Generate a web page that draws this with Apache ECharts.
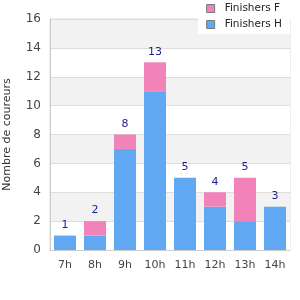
<!DOCTYPE html>
<html>
<head>
<meta charset="utf-8">
<script src="https://cdn.jsdelivr.net/npm/echarts@6/dist/echarts.min.js"></script>
<style>html,body{margin:0;padding:0;background:#fff}#main{width:300px;height:300px}</style>
</head>
<body>
<div id="main"></div>
<script>
var hours = ['7h', '8h', '9h', '10h', '11h', '12h', '13h', '14h'];
var finishersH = [1, 1, 7, 11, 5, 3, 2, 3];
var finishersF = [0, 1, 1, 2, 0, 1, 3, 0];

var chart = echarts.init(document.getElementById('main'));
var option = {
    animation: false,
    textStyle: { fontFamily: 'DejaVu Sans' },
    legend: {
        orient: 'vertical',
        top: 0,
        right: 10,
        padding: [3, 8, 4, 8],
        itemGap: 5,
        itemWidth: 8,
        itemHeight: 8,
        backgroundColor: '#fff',
        textStyle: { fontSize: 10.5, color: '#222', padding: [0, 0, 0, 5] },
        data: [
            { name: 'Finishers F', icon: 'rect', itemStyle: { borderColor: '#777', borderWidth: 1 } },
            { name: 'Finishers H', icon: 'rect', itemStyle: { borderColor: '#777', borderWidth: 1 } }
        ]
    },
    grid: {
        left: 50, right: 10, top: 19, bottom: 50,
        outerBoundsMode: 'none', containLabel: false,
        show: true, borderColor: '#ddd', borderWidth: 1
    },
    xAxis: {
        type: 'category',
        data: hours,
        axisLine: { lineStyle: { color: '#ccc' } },
        axisTick: { show: false },
        axisLabel: { color: '#444', fontSize: 11, margin: 10 }
    },
    yAxis: {
        type: 'value',
        min: 0, max: 16, interval: 2,
        name: 'Nombre de coureurs',
        nameLocation: 'middle',
        nameGap: 37,
        nameTextStyle: { color: '#333', fontSize: 11 },
        axisLine: { show: true, lineStyle: { color: '#ccc' } },
        axisLabel: { color: '#444', fontSize: 12, margin: 9 },
        splitLine: { lineStyle: { color: '#ddd' } },
        splitArea: { show: true, areaStyle: { color: ['#fff', '#f2f2f2'] } }
    },
    series: [
        {
            name: 'Finishers H',
            type: 'bar',
            stack: 'total',
            barWidth: 22,
            itemStyle: { color: '#61a8f2' },
            data: finishersH
        },
        {
            name: 'Finishers F',
            type: 'bar',
            stack: 'total',
            barWidth: 22,
            itemStyle: { color: '#f283b9' },
            label: {
                show: true,
                position: 'top',
                color: '#1f1f8f',
                fontSize: 11,
                formatter: function (p) { return finishersH[p.dataIndex] + finishersF[p.dataIndex]; }
            },
            data: finishersF
        }
    ]
};
chart.setOption(option);
</script>
</body>
</html>
